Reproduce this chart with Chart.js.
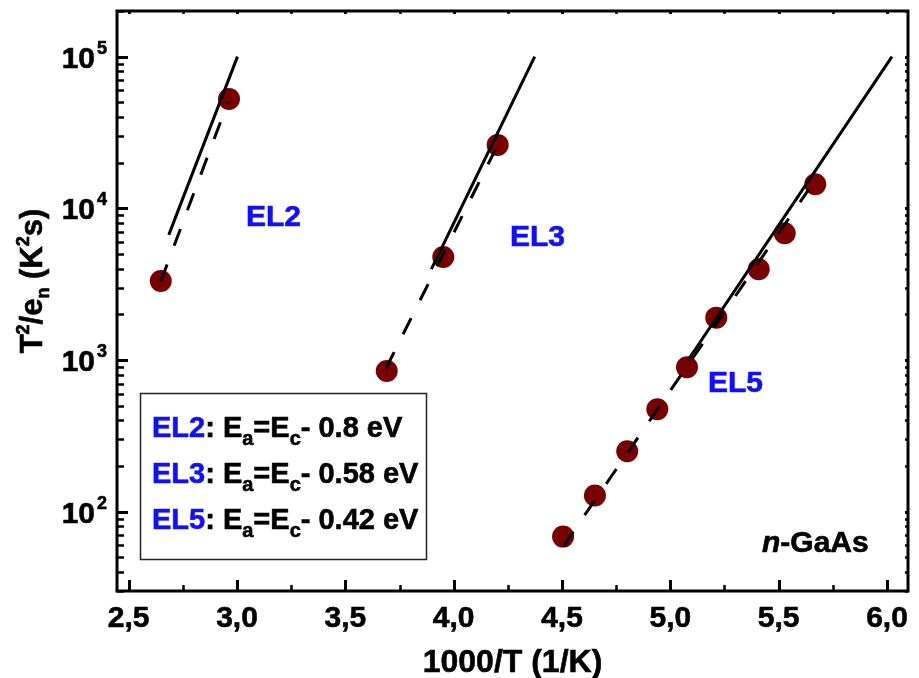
<!DOCTYPE html>
<html>
<head>
<meta charset="utf-8">
<script src="https://cdn.jsdelivr.net/npm/chart.js@4.4.1/dist/chart.umd.min.js"></script>
<style>
  html, body { margin: 0; padding: 0; background: #fff; }
  #arrhenius { display: block; }
</style>
</head>
<body>
<canvas id="arrhenius" width="919" height="678"></canvas>
<script>
// Arrhenius plot data: x = 1000/T (1/K), y = T^2/e_n (K^2 s)
const el2X = [2.648, 2.963];
const el2Y = [3320, 52600];
const el3X = [3.691, 3.952, 4.203];
const el3Y = [847, 4780, 26200];
const el5X = [4.505, 4.652, 4.801, 4.940, 5.077, 5.212, 5.408, 5.528, 5.669];
const el5Y = [68.5, 128, 250, 474, 897, 1903, 3967, 6850, 14420];

// straight-line fits (solid) and fits through the measured points (dashed)
const el2FitX = [2.685, 3.002];
const el2FitY = [6680, 100000];
const el3FitX = [3.897, 4.374];
const el3FitY = [3970, 100000];
const el5FitX = [5.082, 6.023];
const el5FitY = [1000, 100000];

const el2DashX = [2.648, 2.960];
const el2DashY = [3300, 51000];
const el3DashX = [3.688, 4.192];
const el3DashY = [883, 24300];
const el5DashX = [4.505, 5.640];
const el5DashY = [59, 13400];

// axis ticks
const xMajor = [2.5, 3.0, 3.5, 4.0, 4.5, 5.0, 5.5, 6.0];
const xMajorText = ['2,5', '3,0', '3,5', '4,0', '4,5', '5,0', '5,5', '6,0'];
const xMinor = [2.75, 3.25, 3.75, 4.25, 4.75, 5.25, 5.75];
const yDecades = [1, 2, 3, 4, 5];
const yLabelDecades = [2, 3, 4, 5];

// legend content
const trapNames = ['EL2', 'EL3', 'EL5'];
const trapEnergies = ['0.8', '0.58', '0.42'];

const FONT = '"Liberation Sans", Arial, sans-serif';
const BLUE = '#1010ff';
const DOT = '#780000';

function pts(xs, ys) {
  return xs.map((x, i) => ({ x: x, y: ys[i] }));
}

function fitLine(xs, ys, dashed) {
  return {
    data: pts(xs, ys),
    showLine: true,
    borderColor: '#000',
    borderWidth: 3,
    borderDash: dashed ? [18, 20] : [],
    pointRadius: 0,
    fill: false
  };
}

function dots(xs, ys) {
  return {
    data: pts(xs, ys),
    showLine: false,
    pointRadius: 11,
    pointHoverRadius: 11,
    pointBackgroundColor: DOT,
    pointBorderWidth: 0
  };
}

// bold text with a faint outline so it reads as heavy as the axis lines
function heavyText(ctx, text, x, y) {
  ctx.fillText(text, x, y);
  ctx.lineWidth = 0.6;
  ctx.strokeStyle = ctx.fillStyle;
  ctx.strokeText(text, x, y);
}

// draw text pieces one after another; each piece: [text, size, dy, color, italic]
function drawRun(ctx, x, y, pieces) {
  let cx = x;
  pieces.forEach(p => {
    const [text, size, dy, color, italic] = p;
    ctx.font = (italic ? 'italic ' : '') + 'bold ' + size + 'px ' + FONT;
    ctx.fillStyle = color || '#000';
    heavyText(ctx, text, cx, y + dy);
    cx += ctx.measureText(text).width;
  });
  return cx - x;
}

function runWidth(ctx, pieces) {
  let w = 0;
  pieces.forEach(p => {
    ctx.font = (p[4] ? 'italic ' : '') + 'bold ' + p[1] + 'px ' + FONT;
    w += ctx.measureText(p[0]).width;
  });
  return w;
}

const framePlugin = {
  id: 'frame',
  afterDatasetsDraw(chart) {
    const { ctx, chartArea: a, scales: { x, y } } = chart;
    ctx.save();
    ctx.strokeStyle = '#000';
    ctx.lineCap = 'butt';

    // box
    ctx.lineWidth = 3;
    ctx.strokeRect(a.left, a.top, a.right - a.left, a.bottom - a.top);

    // x ticks: bottom (inward) and small ones on top
    const xTick = (v, len, top) => {
      const px = Math.round(x.getPixelForValue(v)) + 0.5;
      ctx.beginPath();
      ctx.moveTo(px, a.bottom);
      ctx.lineTo(px, a.bottom - len);
      ctx.moveTo(px, a.top);
      ctx.lineTo(px, a.top + top);
      ctx.stroke();
    };
    ctx.lineWidth = 3;
    xMajor.forEach(v => xTick(v, 11, 3));
    ctx.lineWidth = 2.5;
    xMinor.forEach(v => xTick(v, 6, 3));

    // y ticks: left (inward) and small ones on the right
    const yTick = (v, len, right) => {
      const py = Math.round(y.getPixelForValue(v)) + 0.5;
      ctx.beginPath();
      ctx.moveTo(a.left, py);
      ctx.lineTo(a.left + len, py);
      ctx.moveTo(a.right, py);
      ctx.lineTo(a.right - right, py);
      ctx.stroke();
    };
    yDecades.forEach(e => {
      for (let m = 1; m <= 9; m++) {
        const v = m * Math.pow(10, e);
        if (v < y.min || v > y.max) continue;
        ctx.lineWidth = m === 1 ? 3 : 2.5;
        yTick(v, m === 1 ? 11 : 7, 3);
      }
    });

    // x tick labels
    ctx.fillStyle = '#000';
    ctx.textBaseline = 'alphabetic';
    ctx.textAlign = 'center';
    ctx.font = 'bold 30px ' + FONT;
    xMajor.forEach((v, i) => {
      heavyText(ctx, xMajorText[i], x.getPixelForValue(v), 627);
    });

    // y tick labels 10^n
    yLabelDecades.forEach(e => {
      const py = y.getPixelForValue(Math.pow(10, e));
      ctx.textAlign = 'right';
      ctx.font = 'bold 30px ' + FONT;
      heavyText(ctx, '10', 95, py + 11);
      ctx.textAlign = 'left';
      ctx.font = 'bold 18px ' + FONT;
      heavyText(ctx, String(e), 97, py - 3);
    });

    // axis titles
    ctx.textAlign = 'center';
    ctx.font = 'bold 32px ' + FONT;
    heavyText(ctx, '1000/T (1/K)', (a.left + a.right) / 2, 672);

    ctx.textAlign = 'left';
    const yTitle = [
      ['T', 31, 0], ['2', 18, -13], ['/e', 31, 0], ['n', 18, 7],
      [' (K', 31, 0], ['2', 18, -13], ['s)', 31, 0]
    ];
    ctx.save();
    ctx.translate(42, 281);
    ctx.rotate(-Math.PI / 2);
    drawRun(ctx, -runWidth(ctx, yTitle) / 2, 0, yTitle);
    ctx.restore();

    // trap labels next to the curves
    ctx.font = 'bold 30px ' + FONT;
    ctx.fillStyle = BLUE;
    heavyText(ctx, 'EL2', 246, 226);
    heavyText(ctx, 'EL3', 510, 246);
    heavyText(ctx, 'EL5', 708, 392);

    drawRun(ctx, 762, 552, [['n', 30, 0, '#000', true], ['-GaAs', 30, 0, '#000']]);

    // legend box with activation energies
    ctx.lineWidth = 1.5;
    ctx.strokeStyle = '#222';
    ctx.strokeRect(140.5, 393.5, 286, 166);
    trapNames.forEach((name, i) => {
      const by = 437 + i * 46;
      drawRun(ctx, 152, by, [
        [name, 29, 0, BLUE],
        [': E', 29, 0],
        ['a', 20, 8],
        ['=E', 29, 0],
        ['c', 20, 8],
        ['- ' + trapEnergies[i] + ' eV', 29, 0]
      ]);
    });

    ctx.restore();
  }
};

const ctx = document.getElementById('arrhenius').getContext('2d');
new Chart(ctx, {
  type: 'scatter',
  data: {
    datasets: [
      fitLine(el2FitX, el2FitY, false),
      fitLine(el3FitX, el3FitY, false),
      fitLine(el5FitX, el5FitY, false),
      fitLine(el2DashX, el2DashY, true),
      fitLine(el3DashX, el3DashY, true),
      fitLine(el5DashX, el5DashY, true),
      dots(el2X, el2Y),
      dots(el3X, el3Y),
      dots(el5X, el5Y)
    ]
  },
  options: {
    responsive: false,
    devicePixelRatio: 1,
    animation: false,
    layout: { padding: { left: 117, top: 11, right: 4, bottom: 87 } },
    plugins: {
      legend: { display: false },
      tooltip: { enabled: false }
    },
    scales: {
      x: { type: 'linear', min: 2.446, max: 6.097, display: false },
      y: { type: 'logarithmic', min: 30, max: 200000, display: false }
    }
  },
  plugins: [framePlugin]
});
</script>
</body>
</html>
